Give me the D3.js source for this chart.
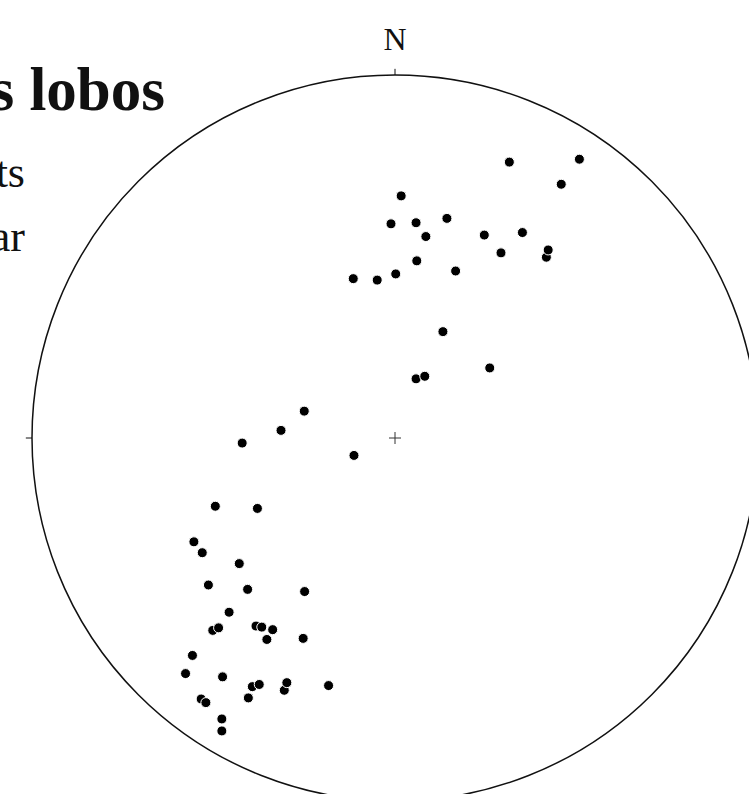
<!DOCTYPE html>
<html>
<head>
<meta charset="utf-8">
<script src="https://cdn.jsdelivr.net/npm/d3@7"></script>
<style>
  html, body { margin: 0; padding: 0; background: #fff; overflow: hidden; }
  svg { display: block; }
</style>
</head>
<body>
<svg id="chart" width="749" height="794"></svg>
<script>
// Projected positions on the stereonet, in units of the primitive circle radius
// (x: east positive, y: north positive)
const poleX = [0.458, 0.508, 0.315, 0.017, -0.011, 0.058, 0.143, 0.085, 0.246, 0.351,
  0.292, 0.417, 0.422, 0.060, 0.167, -0.115, -0.049, 0.002, 0.132, 0.058,
  0.082, 0.261, -0.113, -0.250, -0.314, -0.421, -0.495, -0.379, -0.554, -0.531,
  -0.429, -0.514, -0.406, -0.249, -0.457, -0.502, -0.486, -0.383, -0.367, -0.337,
  -0.353, -0.253, -0.558, -0.577, -0.475, -0.393, -0.374, -0.305, -0.298, -0.183,
  -0.404, -0.534, -0.521, -0.477, -0.477];
const poleY = [0.699, 0.768, 0.760, 0.667, 0.590, 0.593, 0.605, 0.555, 0.559, 0.566,
  0.510, 0.498, 0.518, 0.488, 0.460, 0.439, 0.435, 0.452, 0.293, 0.163,
  0.170, 0.193, -0.048, 0.074, 0.021, -0.014, -0.188, -0.194, -0.286, -0.316,
  -0.346, -0.405, -0.417, -0.423, -0.480, -0.530, -0.523, -0.518, -0.521, -0.528,
  -0.555, -0.552, -0.599, -0.649, -0.658, -0.685, -0.679, -0.695, -0.674, -0.682,
  -0.716, -0.719, -0.729, -0.774, -0.807];

const titleText = "s lobos";
const subtitleLines = ["ts", "ar"];
const northLabel = "N";

const svg = d3.select("#chart");
const cx = 395, cy = 438, R = 363;

const x = d3.scaleLinear().domain([-1, 1]).range([cx - R, cx + R]);
const y = d3.scaleLinear().domain([-1, 1]).range([cy + R, cy - R]);

// Title and subtitles (cut by the left edge)
svg.append("text")
  .attr("x", 165).attr("y", 110)
  .attr("text-anchor", "end")
  .style("font-family", "'Liberation Serif', serif")
  .style("font-weight", "bold")
  .style("font-size", "61px")
  .attr("fill", "#111")
  .text(titleText);

svg.selectAll("text.sub")
  .data(subtitleLines)
  .join("text")
  .attr("class", "sub")
  .attr("x", 25)
  .attr("y", (d, i) => 187 + i * 64)
  .attr("text-anchor", "end")
  .style("font-family", "'Liberation Serif', serif")
  .style("font-size", "44px")
  .attr("fill", "#111")
  .text(d => d);

// Primitive circle
svg.append("circle")
  .attr("cx", x(0)).attr("cy", y(0)).attr("r", x(1) - x(0))
  .attr("fill", "none").attr("stroke", "#111").attr("stroke-width", 1.5);

// Cardinal ticks
const ticks = [[0, 1], [1, 0], [0, -1], [-1, 0]];
svg.selectAll("line.tick")
  .data(ticks)
  .join("line")
  .attr("class", "tick")
  .attr("x1", d => x(d[0])).attr("y1", d => y(d[1]))
  .attr("x2", d => x(d[0] * 1.017)).attr("y2", d => y(d[1] * 1.017))
  .attr("stroke", "#111").attr("stroke-width", 1);

svg.append("text")
  .attr("x", x(0)).attr("y", y(1) - 25)
  .attr("text-anchor", "middle")
  .style("font-family", "'Liberation Serif', serif")
  .style("font-size", "32px")
  .attr("fill", "#111")
  .text(northLabel);

// Center cross
const c = 6;
svg.append("path")
  .attr("d", `M${x(0) - c},${y(0)}H${x(0) + c}M${x(0)},${y(0) - c}V${y(0) + c}`)
  .attr("stroke", "#333").attr("stroke-width", 1).attr("fill", "none");

// Points
const pts = poleX.map((v, i) => ({ x: v, y: poleY[i] }));
svg.selectAll("circle.pt")
  .data(pts)
  .join("circle")
  .attr("class", "pt")
  .attr("cx", d => x(d.x)).attr("cy", d => y(d.y))
  .attr("r", 5)
  .attr("fill", "#000")
  .attr("stroke", "#fff").attr("stroke-width", 1);
</script>
</body>
</html>
